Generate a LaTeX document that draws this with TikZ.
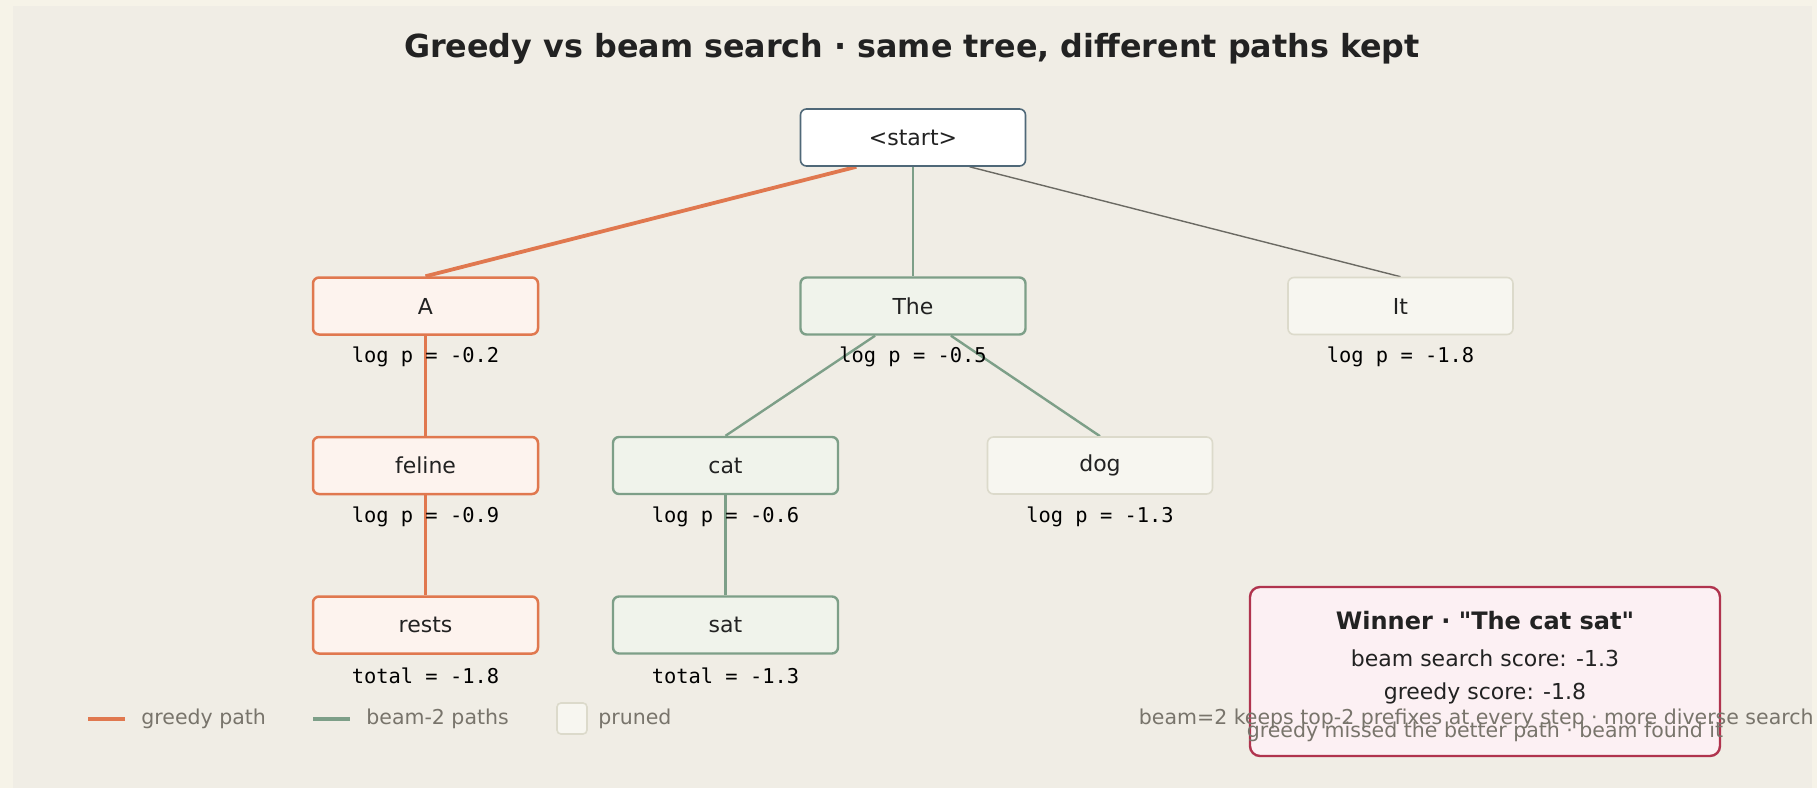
\documentclass[tikz,border=0pt]{standalone}
\usepackage{fontspec}
\setmainfont{DejaVu Sans}[Ligatures=TeXOff]
\setmonofont{DejaVu Sans Mono}
\usetikzlibrary{calc,backgrounds}

\definecolor{outerbg}{HTML}{F6F3E8}
\definecolor{panelbg}{HTML}{F0EDE5}
\definecolor{greedy}{HTML}{E0784F}
\definecolor{greedyfill}{HTML}{FDF3EE}
\definecolor{beam}{HTML}{7D9F88}
\definecolor{beamfill}{HTML}{F0F3EB}
\definecolor{prunedline}{HTML}{DCDACB}
\definecolor{prunedfill}{HTML}{F7F6F0}
\definecolor{startline}{HTML}{4F6878}
\definecolor{edgegray}{HTML}{6B6A63}
\definecolor{winline}{HTML}{B0344E}
\definecolor{winfill}{HTML}{FCF0F3}
\definecolor{ink}{HTML}{222222}
\definecolor{muted}{HTML}{78746B}

\tikzset{
  token/.style={draw, rounded corners=3pt, minimum width=112.5pt, minimum height=28.5pt,
    inner sep=0pt, font=\fontsize{11}{13}\selectfont, text=ink},
  greedybox/.style={token, draw=greedy, fill=greedyfill, line width=1.25pt},
  beambox/.style={token, draw=beam, fill=beamfill, line width=1.2pt},
  prunedbox/.style={token, draw=prunedline, fill=prunedfill, line width=0.8pt},
  startbox/.style={token, draw=startline, fill=white, line width=0.8pt},
  score/.style={font=\ttfamily\fontsize{10.2}{12}\selectfont, text=black, inner sep=0pt},
  greedyedge/.style={draw=greedy, line width=1.6pt},
  beamedge/.style={draw=beam, line width=1.2pt},
  prunededge/.style={draw=edgegray, line width=0.7pt},
  legendtext/.style={font=\fontsize{10.25}{12}\selectfont, text=muted, anchor=west, inner sep=0pt},
  note/.style={font=\fontsize{10.25}{12}\selectfont, text=muted, inner sep=0pt},
}

\begin{document}
\begin{tikzpicture}[x=0.5pt, y=-0.5pt]
\useasboundingbox (0,0) rectangle (1817,788);

% tokens
\node[startbox]  (start)  at (913,137.5) {<start>};
\node[greedybox] (A)      at (425.5,306) {A};
\node[beambox]   (The)    at (913,306)   {The};
\node[prunedbox] (It)     at (1400.5,306) {It};
\node[greedybox] (feline) at (425.5,465.5) {feline};
\node[beambox]   (cat)    at (725.5,465.5) {cat};
\node[prunedbox] (dog)    at (1100,465.5)  {dog};
\node[greedybox] (rests)  at (425.5,625) {rests};
\node[beambox]   (sat)    at (725.5,625) {sat};

\begin{scope}[on background layer]
\fill[outerbg] (0,0) rectangle (1817,788);
\fill[panelbg] (13,6) rectangle (1812,788);
\draw[greedyedge, line width=1.9pt] ($(start.south west)!1/4!(start.south east)$) -- (A.north);
\draw[beamedge]   (start.south) -- (The.north);
\draw[prunededge] ($(start.south west)!3/4!(start.south east)$) -- (It.north);
\draw[greedyedge] (A.south) -- (feline.north);
\draw[greedyedge] (feline.south) -- (rests.north);
\draw[beamedge]   ($(The.south west)!1/3!(The.south east)$) -- (cat.north);
\draw[beamedge]   ($(The.south west)!2/3!(The.south east)$) -- (dog.north);
\draw[beamedge]   (cat.south) -- (sat.north);
\end{scope}

% scores
\node[score] at ($(A)+(0,51)$)      {log p = -0.2};
\node[score] at ($(The)+(0,51)$)    {log p = -0.5};
\node[score] at ($(It)+(0,51)$)     {log p = -1.8};
\node[score] at ($(feline)+(0,51)$) {log p = -0.9};
\node[score] at ($(cat)+(0,51)$)    {log p = -0.6};
\node[score] at ($(dog)+(0,51)$)    {log p = -1.3};
\node[score] at ($(rests)+(0,51)$)  {total = -1.8};
\node[score] at ($(sat)+(0,51)$)    {total = -1.3};

\node[font=\bfseries\fontsize{15.9}{18}\selectfont, text=ink] (title) at (912,48.5)
  {Greedy vs beam search · same tree, different paths kept};

% legend
\draw[greedyedge] (88,719) -- (125,719);
\node[legendtext] at (141,719) {greedy path};
\draw[greedyedge, draw=beam] (313,719) -- (350,719);
\node[legendtext] at (366,719) {beam-2 paths};
\draw[prunedline, fill=prunedfill, line width=0.8pt, rounded corners=2pt] (557,703) rectangle (587,734);
\node[legendtext] at (598,719) {pruned};

% winner
\node[draw=winline, fill=winfill, line width=1.2pt, rounded corners=5pt,
  minimum width=235pt, minimum height=84.5pt] (winner) at (1485,671.5) {};
\node[font=\bfseries\fontsize{12}{14}\selectfont, text=ink] at (1485,621) {Winner · "The cat sat"};
\node[font=\fontsize{11}{13}\selectfont, text=ink] at (1485,658) {beam search score: -1.3};
\node[font=\fontsize{11}{13}\selectfont, text=ink] at (1485,693) {greedy score: -1.8};
\node[note] at (1485,732) {greedy missed the better path · beam found it};
\node[note, anchor=east] at (1814,719) {beam=2 keeps top-2 prefixes at every step · more diverse search};
\end{tikzpicture}
\end{document}
